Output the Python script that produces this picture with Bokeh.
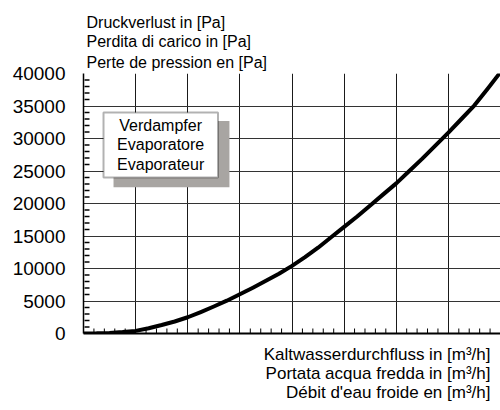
from bokeh.plotting import figure
from bokeh.models import (Range1d, FixedTicker, BasicTickFormatter, Title,
                          Label, BoxAnnotation)
from bokeh.embed import file_html
from bokeh.resources import INLINE

# data (flow in grid units, pressure drop in Pa)
flow = [0, 0.25, 0.5, 0.75, 1, 1.25, 1.5, 1.75, 2, 2.25, 2.5, 2.75, 3, 3.25, 3.5, 3.75,
        4, 4.25, 4.5, 4.75, 5, 5.25, 5.5, 5.75, 6, 6.25, 6.5, 6.75, 7, 7.25, 7.5, 7.75, 8]
dp = [0, 20, 90, 220, 400, 800, 1300, 1850, 2500, 3300, 4150, 5050, 6050, 7050,
      8100, 9200, 10400, 11750, 13200, 14800, 16400, 18000, 19700, 21400, 23100,
      25000, 26900, 28900, 30900, 33000, 35100, 37600, 40200]

y_ticks = [0, 5000, 10000, 15000, 20000, 25000, 30000, 35000, 40000]
x_ticks = [0, 1, 2, 3, 4, 5, 6, 7, 8]

y_title = ["Druckverlust in [Pa]", "Perdita di carico in [Pa]", "Perte de pression en [Pa]"]
x_title = ["Kaltwasserdurchfluss in [m³/h]", "Portata acqua fredda in [m³/h]",
           "Débit d'eau froide en [m³/h]"]
legend_text = "Verdampfer\nEvaporatore\nEvaporateur"

FONT = "Liberation Sans"
W, H = 500, 410
ML, MT, MB = 83, 73, 77

p = figure(width=W, height=H, x_range=Range1d(0, 8), y_range=Range1d(0, 40000),
           output_backend="svg", toolbar_location=None,
           min_border_left=ML, min_border_right=0, min_border_top=MT, min_border_bottom=MB)
p.outline_line_color = None
p.background_fill_color = "white"
p.border_fill_color = "white"

y_minor = [v + k * 1000 for v in y_ticks[:-1] for k in range(1, 5)]
x_minor = [v + k * 0.2 for v in x_ticks[:-1] for k in range(1, 5)]

# axes
p.yaxis.ticker = FixedTicker(ticks=y_ticks, minor_ticks=[])
p.yaxis.formatter = BasicTickFormatter(use_scientific=False)
p.yaxis.major_label_text_font = FONT
p.yaxis.major_label_text_font_size = "19px"
p.yaxis.major_label_text_color = "black"
p.yaxis.major_label_standoff = 18
p.yaxis.axis_line_width = 1.5
p.yaxis.axis_line_color = "black"
p.yaxis.major_tick_in = 0
p.yaxis.major_tick_out = 0
p.yaxis.minor_tick_line_color = None

p.xaxis.ticker = FixedTicker(ticks=x_ticks, minor_ticks=[])
p.xaxis.major_label_overrides = {i: "" for i in x_ticks}
p.xaxis.major_label_text_font_size = "1px"
p.xaxis.major_label_standoff = 0
p.xaxis.axis_line_width = 2
p.xaxis.axis_line_color = "black"
p.xaxis.major_tick_in = 0
p.xaxis.major_tick_out = 0
p.xaxis.minor_tick_line_color = None

p.xgrid.grid_line_color = "#1a1a1a"
p.ygrid.grid_line_color = "#333333"
p.xgrid.grid_line_width = 1
p.ygrid.grid_line_width = 1

# inward minor ticks (lengths converted from pixels to data units)
dx_px = 8 / (W - ML)
dy_px = 40000 / (H - MT - MB)
p.segment(x0=[0.02] * len(y_minor), y0=y_minor, x1=[6 * dx_px] * len(y_minor), y1=y_minor,
          line_color="black", line_width=1.5)
p.segment(x0=x_minor, y0=[0] * len(x_minor), x1=x_minor, y1=[5 * dy_px] * len(x_minor),
          line_color="black", line_width=1)

# curve
p.line(flow, dp, line_color="black", line_width=4, line_join="round")

# titles above (added bottom-up)
for i, t in enumerate(reversed(y_title)):
    p.add_layout(Title(text=t, align="left", offset=3, standoff=5 if i == 0 else 0,
                       text_font=FONT, text_font_size="16px",
                       text_font_style="normal", text_color="black"), "above")

# x caption below, right aligned
if "text_align" in Title.properties():
    cap = Title(text="\n".join(x_title), align="right", offset=10, standoff=18,
                text_font=FONT, text_font_size="17px", text_line_height=1.0,
                text_font_style="normal", text_color="black")
    cap.text_align = "right"
    p.add_layout(cap, "below")
else:
    for i, t in enumerate(x_title):
        p.add_layout(Title(text=t, align="right", offset=10,
                           standoff=(18 if i == 0 else 0),
                           text_font=FONT, text_font_size="17px", text_line_height=0.95,
                           text_font_style="normal", text_color="black"), "below")

# legend box with shadow
p.add_layout(BoxAnnotation(left=0.576, right=2.80, bottom=22500, top=32700,
                           fill_color="#a8a5a2", fill_alpha=1, line_color=None))
p.add_layout(BoxAnnotation(left=0.384, right=2.58, bottom=24000, top=34000,
                           fill_color="white", fill_alpha=1, line_color="black",
                           line_width=2))
p.add_layout(Label(x=1.48, y=29000, text=legend_text, text_align="center",
                   text_baseline="middle", text_font=FONT, text_font_size="16px",
                   text_line_height=1.15, text_color="black"))

open("out.html", "w").write(file_html(p, INLINE))
